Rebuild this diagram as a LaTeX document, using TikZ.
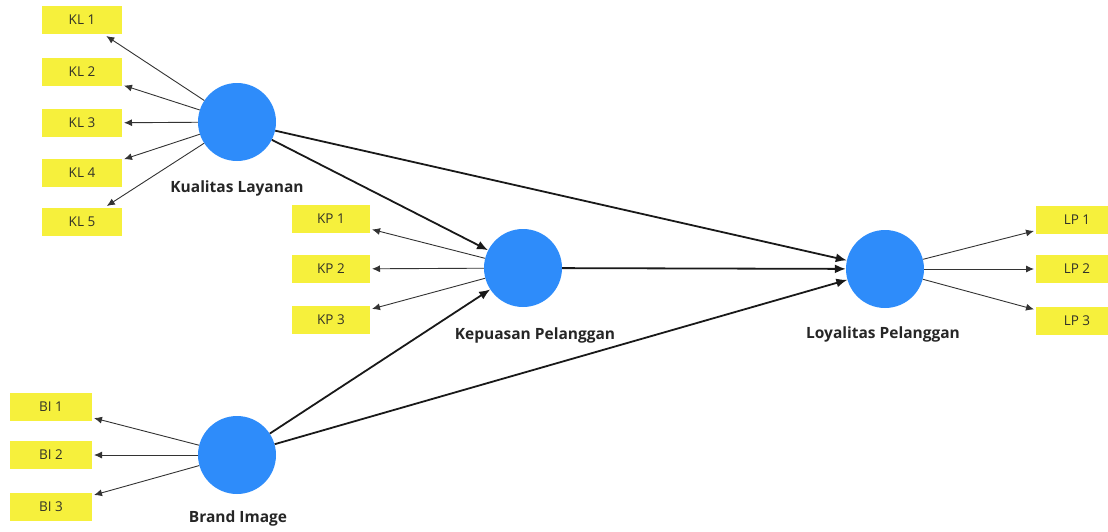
\documentclass[tikz,border=0pt]{standalone}
\usepackage{fontspec}
\setmainfont{Open Sans}
\usetikzlibrary{arrows.meta}
\definecolor{lvblue}{RGB}{46,140,250}
\definecolor{indyellow}{RGB}{246,240,60}
\definecolor{indtext}{RGB}{50,50,40}
\tikzset{
  lv/.style={circle,fill=lvblue,minimum size=78pt,inner sep=0pt,draw=none},
  ind/.style={rectangle,fill=indyellow,minimum height=28pt,inner sep=0pt,outer sep=2pt,
    font=\fontsize{13.5}{15}\selectfont,text=indtext},
  lvlabel/.style={font=\fontsize{15.5}{17}\selectfont\bfseries,text=black!85},
  meas/.style={-{Latex[length=8pt,width=7pt]},line width=0.9pt,draw=black!80},
  struct/.style={-{Latex[length=11pt,width=9pt]},line width=1.8pt,draw=black!90}
}
\begin{document}
\begin{tikzpicture}[x=1pt,y=-1pt]
\useasboundingbox (0,0) rectangle (1108,531);
% latent variables
\node[lv] (KL) at (237,122) {};
\node[lv] (KP) at (523,268) {};
\node[lv] (LP) at (885,269) {};
\node[lv] (BI) at (237,455) {};
\node[lvlabel] (lKL) at (237,188) {Kualitas Layanan};
\node[lvlabel] (lKP) at (535,335) {Kepuasan Pelanggan};
\node[lvlabel] (lLP) at (883,334) {Loyalitas Pelanggan};
\node[lvlabel] (lBI) at (238,518) {Brand Image};
% indicators
\node[ind,minimum width=80pt] (kl1) at (82,20) {KL 1};
\node[ind,minimum width=80pt] (kl2) at (82,72) {KL 2};
\node[ind,minimum width=80pt] (kl3) at (82,123) {KL 3};
\node[ind,minimum width=80pt] (kl4) at (82,173) {KL 4};
\node[ind,minimum width=80pt] (kl5) at (82,222) {KL 5};
\node[ind,minimum width=78pt] (kp1) at (331,219) {KP 1};
\node[ind,minimum width=78pt] (kp2) at (331,269) {KP 2};
\node[ind,minimum width=78pt] (kp3) at (331,320) {KP 3};
\node[ind,minimum width=82pt] (lp1) at (1077,220) {LP 1};
\node[ind,minimum width=82pt] (lp2) at (1077,269) {LP 2};
\node[ind,minimum width=82pt] (lp3) at (1077,321) {LP 3};
\node[ind,minimum width=82pt] (bi1) at (51,407) {BI 1};
\node[ind,minimum width=82pt] (bi2) at (51,455) {BI 2};
\node[ind,minimum width=82pt] (bi3) at (51,507) {BI 3};
% measurement arrows
\foreach \i in {1,...,5} \draw[meas] (KL) -- (kl\i);
\foreach \i in {1,2,3} \draw[meas] (KP) -- (kp\i);
\foreach \i in {1,2,3} \draw[meas] (LP) -- (lp\i);
\foreach \i in {1,2,3} \draw[meas] (BI) -- (bi\i);
% structural arrows
\draw[struct] (KL) -- (KP);
\draw[struct] (KL) -- (LP);
\draw[struct] (KP) -- (LP);
\draw[struct] (BI) -- (KP);
\draw[struct] (BI) -- (LP);
\end{tikzpicture}
\end{document}
